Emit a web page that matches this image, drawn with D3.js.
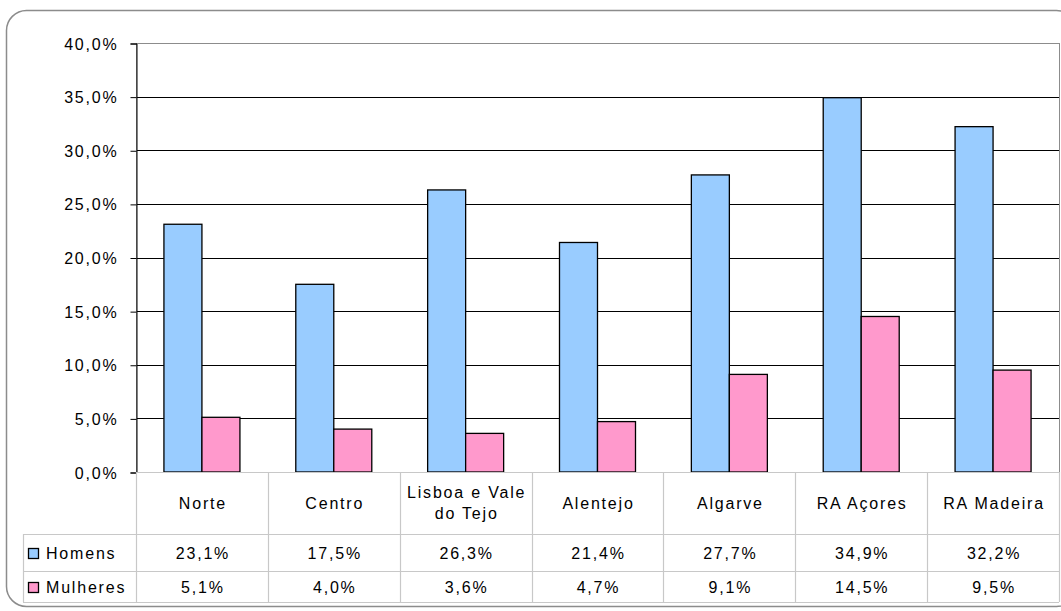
<!DOCTYPE html>
<html>
<head>
<meta charset="utf-8">
<script src="https://cdn.jsdelivr.net/npm/d3@7"></script>
<style>
body { margin: 0; background: #fff; }
text { font-family: "Liberation Sans", Arial, sans-serif; font-size: 16px; letter-spacing: 1.8px; fill: #000; }
</style>
</head>
<body>
<div id="chart"></div>
<script>
var categories = [["Norte"], ["Centro"], ["Lisboa e Vale", "do Tejo"], ["Alentejo"], ["Algarve"], ["RA Açores"], ["RA Madeira"]];
var seriesNames = ["Homens", "Mulheres"];
var homens = [23.1, 17.5, 26.3, 21.4, 27.7, 34.9, 32.2];
var mulheres = [5.1, 4.0, 3.6, 4.7, 9.1, 14.5, 9.5];
var yTicks = [0, 5, 10, 15, 20, 25, 30, 35, 40];
var colors = ["#99ccff", "#ff99cc"];

var W = 1061, H = 611;
var plotLeft = 136, plotRight = 1059, plotTop = 43, plotBottom = 472;
var rowLines = [472, 534, 571, 602];
var tableLeft = 23;

var pt = d3.formatLocale({ decimal: ",", thousands: ".", grouping: [3], currency: ["", "€"] }).format(".1f");

var svg = d3.select("#chart").append("svg")
	.attr("width", W)
	.attr("height", H);

// outer frame
svg.append("rect")
	.attr("x", 6.5).attr("y", 10.5)
	.attr("width", 1070).attr("height", 596)
	.attr("rx", 20).attr("ry", 20)
	.attr("fill", "none").attr("stroke", "#8c8c8c").attr("stroke-width", 1.5);

var keys = categories.map(function (c) { return c.join(" "); });
var x0 = d3.scaleBand().domain(keys).range([plotLeft, plotRight]);
var step = x0.bandwidth();
var x1 = d3.scaleBand().domain(seriesNames).range([step / 2 - 38, step / 2 + 38]);
var y = d3.scaleLinear().domain([0, 40]).range([plotBottom, plotTop]);

// grid lines
svg.append("g").selectAll("line").data(yTicks.filter(function (d) { return d > 0 && d < 40; }))
	.enter().append("line")
	.attr("x1", plotLeft).attr("x2", plotRight)
	.attr("y1", function (d) { return Math.round(y(d)) + 0.5; })
	.attr("y2", function (d) { return Math.round(y(d)) + 0.5; })
	.attr("stroke", "#000").attr("stroke-width", 1);

// plot area border
svg.append("rect")
	.attr("x", plotLeft + 0.5).attr("y", Math.round(y(40)) + 0.5)
	.attr("width", plotRight - plotLeft).attr("height", plotBottom - Math.round(y(40)))
	.attr("fill", "none").attr("stroke", "#8c8c8c").attr("stroke-width", 1);

// bars
var data = [homens, mulheres];
var groups = svg.append("g").selectAll("g").data(keys).enter().append("g")
	.attr("transform", function (d) { return "translate(" + x0(d) + ",0)"; });

groups.selectAll("rect").data(function (d, i) {
	return seriesNames.map(function (s, j) { return { s: s, v: data[j][i], j: j }; });
}).enter().append("rect")
	.attr("x", function (d) { return x1(d.s); })
	.attr("y", function (d) { return y(d.v); })
	.attr("width", x1.bandwidth())
	.attr("height", function (d) { return plotBottom - y(d.v); })
	.attr("fill", function (d) { return colors[d.j]; })
	.attr("stroke", "#000").attr("stroke-width", 1.3);

// y axis
var yAxis = d3.axisLeft(y).tickValues(yTicks).tickSize(6).tickPadding(12)
	.tickFormat(function (d) { return pt(d) + "%"; });
var ax = svg.append("g").attr("transform", "translate(" + (plotLeft + 0.5) + ",0.5)").call(yAxis);
ax.select(".domain").attr("stroke", "#000");
ax.selectAll(".tick line").attr("stroke", "#000");
ax.selectAll("text").attr("font-size", null).attr("font-family", null).attr("dy", "0.35em");

// data table
var tbl = svg.append("g").attr("stroke", "#c8c8c8").attr("stroke-width", 1.2);
tbl.append("line").attr("x1", plotLeft).attr("x2", plotRight).attr("y1", rowLines[0] + 0.5).attr("y2", rowLines[0] + 0.5);
[1, 2, 3].forEach(function (r) {
	tbl.append("line").attr("x1", tableLeft).attr("x2", plotRight)
		.attr("y1", rowLines[r] + 0.5).attr("y2", rowLines[r] + 0.5);
});
tbl.append("line").attr("x1", tableLeft + 0.5).attr("x2", tableLeft + 0.5).attr("y1", rowLines[1]).attr("y2", rowLines[3]);
keys.forEach(function (k) {
	tbl.append("line").attr("x1", Math.round(x0(k)) + 0.5).attr("x2", Math.round(x0(k)) + 0.5)
		.attr("y1", rowLines[0]).attr("y2", rowLines[3]);
});
tbl.append("line").attr("x1", plotRight + 0.5).attr("x2", plotRight + 0.5).attr("y1", rowLines[0]).attr("y2", rowLines[3]);

// category labels
var catText = svg.append("g").selectAll("text").data(categories).enter().append("text")
	.attr("text-anchor", "middle")
	.attr("x", function (d, i) { return x0(keys[i]) + step / 2 + 1; })
	.attr("y", function (d) { return (rowLines[0] + rowLines[1]) / 2 - (d.length - 1) * 11; });
catText.selectAll("tspan").data(function (d) { return d; }).enter().append("tspan")
	.attr("x", function () { return d3.select(this.parentNode).attr("x"); })
	.attr("dy", function (d, i) { return i === 0 ? "0.35em" : "1.35em"; })
	.text(function (d) { return d; });

// series rows
data.forEach(function (vals, j) {
	var cy = (rowLines[j + 1] + rowLines[j + 2]) / 2 + 1;
	svg.append("rect")
		.attr("x", 28.5).attr("y", cy - 5)
		.attr("width", 10).attr("height", 10)
		.attr("fill", colors[j]).attr("stroke", "#000").attr("stroke-width", 1.3);
	svg.append("text").attr("x", 46).attr("y", cy).attr("dy", "0.35em").text(seriesNames[j]);
	svg.append("g").selectAll("text").data(vals).enter().append("text")
		.attr("text-anchor", "middle")
		.attr("x", function (d, i) { return x0(keys[i]) + step / 2 + 1; })
		.attr("y", cy).attr("dy", "0.35em")
		.text(function (d) { return pt(d) + "%"; });
});
</script>
</body>
</html>
